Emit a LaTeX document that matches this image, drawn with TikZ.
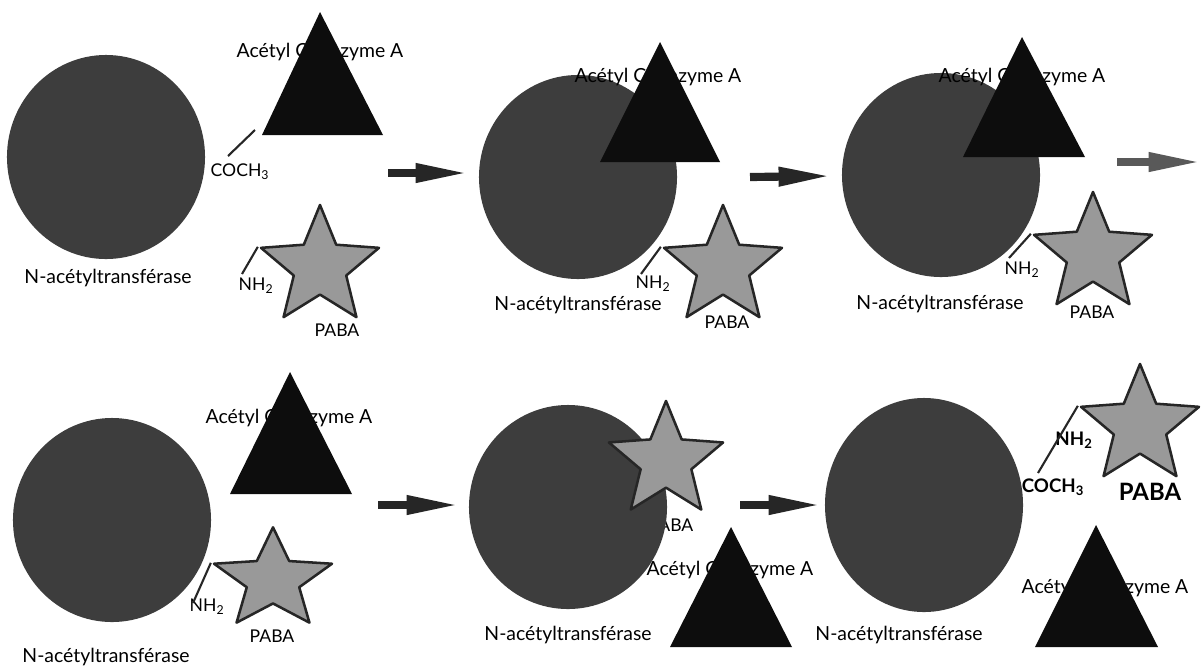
\documentclass[tikz,border=0pt]{standalone}
\usepackage{fontspec}
\setmainfont{Lato}
\usetikzlibrary{shapes.geometric,arrows.meta}
\begin{document}
\begin{tikzpicture}[x=0.025cm, y=-0.025cm, line join=round,
	enzyme/.style={ellipse, fill=black!76, minimum width=4.95cm, minimum height=5.1cm, inner sep=0pt},
	substrat/.style={star, star points=5, star point ratio=2.25, minimum size=3.1cm, inner sep=0pt, fill=black!40, draw=black!85, line width=1.8pt},
	coenz/.style={fill=black!95},
	lbl/.style={font=\fontsize{12.5}{14}\selectfont, inner sep=0pt},
	nom/.style={font=\fontsize{13.8}{16}\selectfont, inner sep=0pt},
	grasl/.style={font=\fontsize{13.3}{15}\selectfont\bfseries, inner sep=0pt},
	bond/.style={line width=1.5pt, black!85},
	fleche/.style={line width=5.8pt, black!85, -{Triangle[length=38pt,width=12.5pt]}}]
	\useasboundingbox (0,0) rectangle (1202,667);
	
	% 1. etape 1 : enzyme, acetyl-CoA et PABA separes
	\node[enzyme] (e1) at (106,157) {};
	\node[nom] (a1) at (320,52) {Acétyl Coenzyme A};
	\fill[coenz] (320,12) -- (262,135) -- (383,135) -- cycle;
	\node[lbl] (c1) at (240,172) {COCH\textsubscript{3}};
	\coordinate (c1a) at (228,156);
	\coordinate (c1b) at (255,130);
	\draw[bond] (c1a) -- (c1b);
	\node[substrat] (p1) at (320,267) {};
	\node[lbl] (h1) at (256,286) {NH\textsubscript{2}};
	\coordinate (h1a) at (242,274);
	\draw[bond] (h1a) -- (p1.outer point 2);
	\node[nom] (n1) at (108,278) {N-acétyltransférase};
	\node[lbl] (b1) at (337,330) {PABA};
	
	% 2. etape 2 : fixation de l'acetyl-CoA
	\node[enzyme] (e2) at (578,177) {};
	\node[nom] (a2) at (658,77) {Acétyl Coenzyme A};
	\fill[coenz] (660,42) -- (600,162) -- (720,162) -- cycle;
	\node[substrat] (p2) at (723,267) {};
	\node[lbl] (h2) at (653,284) {NH\textsubscript{2}};
	\coordinate (h2a) at (641,274);
	\draw[bond] (h2a) -- (p2.outer point 2);
	\node[nom] (n2) at (578,305) {N-acétyltransférase};
	\node[lbl] (b2) at (727,322) {PABA};
	
	% 3. etape 3
	\node[enzyme] (e3) at (941,175) {};
	\node[nom] (a3) at (1022,77) {Acétyl Coenzyme A};
	\fill[coenz] (1022,37) -- (963,157) -- (1085,157) -- cycle;
	\node[substrat] (p3) at (1093,254) {};
	\node[lbl] (h3) at (1022,270) {NH\textsubscript{2}};
	\coordinate (h3a) at (1009,258);
	\draw[bond] (h3a) -- (p3.outer point 2);
	\node[nom] (n3) at (940,304) {N-acétyltransférase};
	\node[lbl] (b3) at (1092,312) {PABA};
	
	% 4. etape 4 : enzyme acetylee
	\node[enzyme] (e4) at (112,520) {};
	\node[nom] (a4) at (289,418) {Acétyl Coenzyme A};
	\fill[coenz] (290,372) -- (230,494) -- (352,494) -- cycle;
	\begin{scope}[shift={(273,580)}, yscale=0.85]
		\node[substrat, transform shape] (p4) at (0,0) {};
	\end{scope}
	\node[lbl] (h4) at (207,607) {NH\textsubscript{2}};
	\coordinate (h4a) at (193,603);
	\draw[bond] (h4a) -- (p4.outer point 2);
	\node[nom] (n4) at (106,657) {N-acétyltransférase};
	\node[lbl] (b4) at (272,636) {PABA};
	
	% 5. etape 5 : fixation du PABA
	\node[lbl] (b5) at (671,525) {PABA};
	\node[enzyme] (e5) at (568,507) {};
	\node[substrat, minimum size=3cm] (p5) at (666,461) {};
	\node[nom] (a5) at (730,570) {Acétyl Coenzyme A};
	\fill[coenz] (731,527) -- (670,647) -- (792,647) -- cycle;
	\node[nom] (n5) at (568,635) {N-acétyltransférase};
	
	% 6. etape 6 : PABA acetyle libere
	\node[enzyme, minimum height=5.35cm] (e6) at (924,505) {};
	\node[substrat] (p6) at (1140,426) {};
	\node[grasl] (h6) at (1074,440) {NH\textsubscript{2}};
	\node[grasl] (c6) at (1053,487) {COCH\textsubscript{3}};
	\coordinate (c6a) at (1038,473);
	\draw[bond] (c6a) -- (p6.outer point 2);
	\node[grasl, font=\fontsize{17}{19}\selectfont\bfseries] (b6) at (1150,492) {PABA};
	\node[nom] (a6) at (1105,588) {Acétyl Coenzyme A};
	\fill[coenz] (1096,525) -- (1035,647) -- (1158,647) -- cycle;
	\node[nom] (n6) at (899,635) {N-acétyltransférase};
	
	% 7. fleches entre les etapes
	\coordinate (f1a) at (388,173); \coordinate (f1b) at (469,173);
	\coordinate (f2a) at (750,177); \coordinate (f2b) at (832,176);
	\coordinate (f3a) at (1117,162); \coordinate (f3b) at (1202,162);
	\coordinate (f4a) at (378,505); \coordinate (f4b) at (460,505);
	\coordinate (f5a) at (740,505); \coordinate (f5b) at (822,505);
	\draw[fleche] (f1a) -- (f1b);
	\draw[fleche] (f2a) -- (f2b);
	\draw[fleche, black!65] (f3a) -- (f3b);
	\draw[fleche] (f4a) -- (f4b);
	\draw[fleche] (f5a) -- (f5b);
\end{tikzpicture}
\end{document}
